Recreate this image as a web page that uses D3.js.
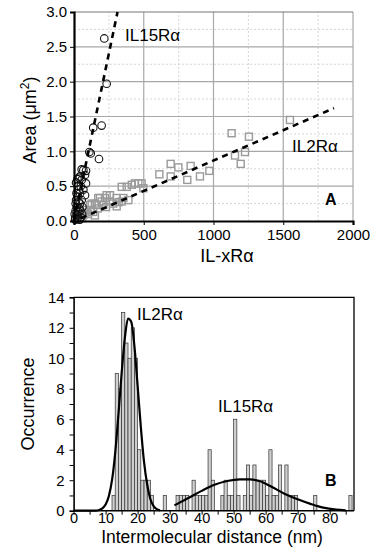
<!DOCTYPE html>
<html>
<head>
<meta charset="utf-8">
<script src="https://cdn.jsdelivr.net/npm/d3@7"></script>
<style>
  body { margin: 0; background: #fff; }
  svg { font-family: 'Liberation Sans', Arial, sans-serif; }
</style>
</head>
<body>
<div id="chart"></div>
<script>
// panel A: IL15Ra circles
const il15X = [217, 234, 138, 198, 110, 179, 120, 55, 86, 67, 43, 79, 55, 86, 67, 43, 79, 55, 43, 38,
  31, 19, 10, 20, 25, 15, 30, 35, 12, 8, 22, 28, 5, 18, 33, 45, 60, 50, 40, 15, 25, 48, 36, 12, 58];
const il15Y = [2.62, 1.97, 1.34, 1.37, 0.99, 0.89, 0.97, 0.74, 0.72, 0.73, 0.64, 0.66, 0.59, 0.54, 0.45, 0.40, 0.37, 0.30, 0.25, 0.18,
  0.13, 0.09, 0.05, 0.20, 0.35, 0.30, 0.50, 0.45, 0.15, 0.02, 0.03, 0.08, 0.10, 0.40, 0.28, 0.15, 0.20, 0.05, 0.02, 0.55, 0.60, 0.50, 0.62, 0.25, 0.10];

// panel A: IL2Ra squares
const il2X = [1130, 1254, 1548, 1226, 1154, 1195, 693, 748, 836, 612, 693, 812, 903, 970, 437, 461, 485, 497, 414, 378,
  342, 258, 222, 174, 306, 354, 390, 342, 306, 258, 234, 210, 198, 186, 162, 150, 138, 127, 115, 91,
  67, 43, 100, 60, 80, 120, 170, 230, 280, 320, 30, 150];
const il2Y = [1.26, 1.21, 1.45, 0.99, 0.94, 0.82, 0.82, 0.77, 0.79, 0.67, 0.64, 0.59, 0.64, 0.72, 0.54, 0.54, 0.54, 0.47, 0.52, 0.49,
  0.49, 0.37, 0.33, 0.33, 0.33, 0.33, 0.30, 0.28, 0.21, 0.28, 0.37, 0.23, 0.28, 0.33, 0.23, 0.25, 0.13, 0.25, 0.23, 0.16,
  0.09, 0.05, 0.10, 0.04, 0.12, 0.15, 0.18, 0.20, 0.25, 0.27, 0.02, 0.08];

// dashed fit lines [x, y] end points
const il15Fit = [[0, 0], [312, 3.0]];
const il2Fit = [[50, 0.04], [1864, 1.62]];

const xTicksA = [0, 500, 1000, 1500, 2000];
const yTicksA = [0, 0.5, 1, 1.5, 2, 2.5, 3];

// panel B: histogram, 1 nm bins (left edge)
const binStart = [12, 13, 14, 15, 16, 17, 18, 19, 20, 21, 22, 23, 24, 28,
  32, 33, 34, 35, 37, 38, 39, 40, 41, 42, 43, 46, 47, 48, 49, 50, 51, 53, 54, 55, 56, 57, 58, 59,
  60, 61, 62, 63, 64, 66, 67, 68, 69, 75, 86];
const binCount = [1, 9, 8, 13, 11, 10, 12, 10, 4, 2, 2, 2, 1, 1,
  1, 1, 1, 1, 2, 1, 1, 1, 1, 4, 2, 1, 2, 1, 1, 6, 1, 1, 3, 1, 3, 2, 2, 2,
  1, 4, 1, 1, 3, 3, 1, 1, 1, 1, 1];

// fitted curves
const il2CurveX = [0, 7, 8, 9, 10, 11, 12, 13, 14, 15, 16, 17, 18, 19, 20, 21, 22, 23, 24, 25, 26, 27];
const il2CurveY = [0, 0, 0.05, 0.15, 0.4, 0.95, 2.0, 3.8, 6.3, 9.0, 11.3, 12.6, 12.4, 10.8, 8.2, 5.5, 3.2, 1.7, 0.75, 0.3, 0.1, 0.02];
const il15CurveX = [31.5, 36, 40, 44, 48, 52, 55, 58, 62, 66, 70, 74, 78, 82, 85];
const il15CurveY = [0.35, 0.85, 1.3, 1.7, 1.95, 2.05, 2.05, 1.95, 1.55, 1.1, 0.75, 0.45, 0.2, 0.07, 0.02];

const xTicksB = [0, 10, 20, 30, 40, 50, 60, 70, 80];
const yTicksB = [0, 2, 4, 6, 8, 10, 12, 14];

const svg = d3.select('#chart')
  .append('svg')
  .attr('width', 377)
  .attr('height', 556);

// ---------- panel A ----------
const xA = d3.scaleLinear().domain([0, 2000]).range([74, 353]);
const yA = d3.scaleLinear().domain([0, 3]).range([221, 12]);

const gA = svg.append('g');

// minor grid
gA.append('g')
  .selectAll('line')
  .data(d3.range(250, 2000, 500))
  .join('line')
  .attr('x1', (d) => xA(d)).attr('x2', (d) => xA(d))
  .attr('y1', yA(0)).attr('y2', yA(3))
  .attr('stroke', '#d6d6d6').attr('stroke-dasharray', '2,2');
gA.append('g')
  .selectAll('line')
  .data(d3.range(0.25, 3, 0.5))
  .join('line')
  .attr('x1', xA(0)).attr('x2', xA(2000))
  .attr('y1', (d) => yA(d)).attr('y2', (d) => yA(d))
  .attr('stroke', '#d6d6d6').attr('stroke-dasharray', '2,2');

// major grid
gA.append('g')
  .selectAll('line')
  .data([500, 1000, 1500, 2000])
  .join('line')
  .attr('x1', (d) => xA(d)).attr('x2', (d) => xA(d))
  .attr('y1', yA(0)).attr('y2', yA(3))
  .attr('stroke', '#a8a8a8').attr('stroke-width', 1.2);
gA.append('g')
  .selectAll('line')
  .data([0.5, 1, 1.5, 2, 2.5, 3])
  .join('line')
  .attr('x1', xA(0)).attr('x2', xA(2000))
  .attr('y1', (d) => yA(d)).attr('y2', (d) => yA(d))
  .attr('stroke', (d) => (d === 3 ? '#777' : '#a8a8a8')).attr('stroke-width', 1.2);

// squares
const sq = 7;
gA.append('g')
  .selectAll('rect')
  .data(il2X.map((x, i) => [x, il2Y[i]]))
  .join('rect')
  .attr('x', (d) => xA(d[0]) - sq / 2)
  .attr('y', (d) => yA(d[1]) - sq / 2)
  .attr('width', sq).attr('height', sq)
  .attr('fill', 'none')
  .attr('stroke', '#9a9a9a')
  .attr('stroke-width', 1.4);

// circles
gA.append('g')
  .selectAll('circle')
  .data(il15X.map((x, i) => [x, il15Y[i]]))
  .join('circle')
  .attr('cx', (d) => xA(d[0]))
  .attr('cy', (d) => yA(d[1]))
  .attr('r', 3.8)
  .attr('fill', 'none')
  .attr('stroke', '#111')
  .attr('stroke-width', 1.1);

const lineA = d3.line().x((d) => xA(d[0])).y((d) => yA(d[1]));
[il15Fit, il2Fit].forEach((fit) => {
  gA.append('path')
    .attr('d', lineA(fit))
    .attr('fill', 'none')
    .attr('stroke', '#000')
    .attr('stroke-width', 2.6)
    .attr('stroke-dasharray', '6,5');
});

// axes
gA.append('g')
  .attr('transform', `translate(0,${yA(0)})`)
  .call(d3.axisBottom(xA).tickValues(xTicksA).tickSize(4).tickFormat(d3.format('d')))
  .call((g) => g.select('.domain').attr('stroke-width', 2.2))
  .call((g) => g.selectAll('text').attr('font-size', 15).attr('fill', '#000').attr('dy', '0.8em'));
gA.append('g')
  .attr('transform', `translate(${xA(0)},0)`)
  .call(d3.axisLeft(yA).tickValues(yTicksA).tickSize(4).tickFormat(d3.format('.1f')))
  .call((g) => g.select('.domain').attr('stroke-width', 2.2))
  .call((g) => g.selectAll('text').attr('font-size', 15).attr('fill', '#000').attr('x', -7));

gA.append('text')
  .attr('x', 227).attr('y', 262)
  .attr('text-anchor', 'middle').attr('font-size', 18)
  .text('IL-xRα');
gA.append('text')
  .attr('transform', 'translate(36,120) rotate(-90)')
  .attr('text-anchor', 'middle').attr('font-size', 18)
  .html('Area (μm<tspan dy="-7" font-size="12">2</tspan><tspan dy="7">)</tspan>');

gA.append('text').attr('x', 125).attr('y', 41).attr('font-size', 17).text('IL15Rα');
gA.append('text').attr('x', 292).attr('y', 152).attr('font-size', 17).text('IL2Rα');
gA.append('text').attr('x', 325).attr('y', 205).attr('font-size', 16).attr('font-weight', 'bold').text('A');

// ---------- panel B ----------
const xB = d3.scaleLinear().domain([0, 87.6]).range([73.6, 354]);
const yB = d3.scaleLinear().domain([0, 14]).range([510.7, 297.3]);

const gB = svg.append('g');

gB.append('g')
  .selectAll('rect')
  .data(binStart.map((b, i) => [b, binCount[i]]))
  .join('rect')
  .attr('x', (d) => xB(d[0]))
  .attr('y', (d) => yB(d[1]))
  .attr('width', (d) => xB(d[0] + 1) - xB(d[0]))
  .attr('height', (d) => yB(0) - yB(d[1]))
  .attr('fill', '#cfcfcf')
  .attr('stroke', '#333')
  .attr('stroke-width', 0.7);

const lineB = d3.line()
  .x((d) => xB(d[0]))
  .y((d) => yB(d[1]))
  .curve(d3.curveMonotoneX);
[[il2CurveX, il2CurveY], [il15CurveX, il15CurveY]].forEach(([xs, ys]) => {
  gB.append('path')
    .attr('d', lineB(xs.map((x, i) => [x, ys[i]])))
    .attr('fill', 'none')
    .attr('stroke', '#000')
    .attr('stroke-width', 2.2);
});

// frame top / right
gB.append('path')
  .attr('d', `M${xB(0)},${yB(14)}H${xB(87.6)}V${yB(0)}`)
  .attr('fill', 'none')
  .attr('stroke', '#000')
  .attr('stroke-width', 1.3);

gB.append('g')
  .attr('transform', `translate(0,${yB(0)})`)
  .call(d3.axisBottom(xB).tickValues(d3.range(0, 86, 5)).tickSize(4).tickFormat((d) => (d % 10 === 0 ? d : '')))
  .call((g) => g.select('.domain').attr('stroke-width', 1.6).attr('d', `M${xB(0)},0H${xB(87.6)}`))
  .call((g) => g.selectAll('text').attr('font-size', 14.5).attr('fill', '#000').attr('y', 4).attr('dy', '0.55em'));
gB.append('g')
  .attr('transform', `translate(${xB(0)},0)`)
  .call(d3.axisLeft(yB).tickValues(d3.range(0, 15, 1)).tickSize(4).tickFormat((d) => (d % 2 === 0 ? d : '')))
  .call((g) => g.select('.domain').attr('stroke-width', 1.6))
  .call((g) => g.selectAll('text').attr('font-size', 15).attr('fill', '#000').attr('x', -9));

gB.append('text')
  .attr('x', 212).attr('y', 543)
  .attr('text-anchor', 'middle').attr('font-size', 17.5)
  .text('Intermolecular distance (nm)');
gB.append('text')
  .attr('transform', 'translate(34,404) rotate(-90)')
  .attr('text-anchor', 'middle').attr('font-size', 18)
  .text('Occurrence');

gB.append('text').attr('x', 137).attr('y', 320).attr('font-size', 17).text('IL2Rα');
gB.append('text').attr('x', 218).attr('y', 412).attr('font-size', 17).text('IL15Rα');
gB.append('text').attr('x', 325).attr('y', 486).attr('font-size', 16).attr('font-weight', 'bold').text('B');
</script>
</body>
</html>
